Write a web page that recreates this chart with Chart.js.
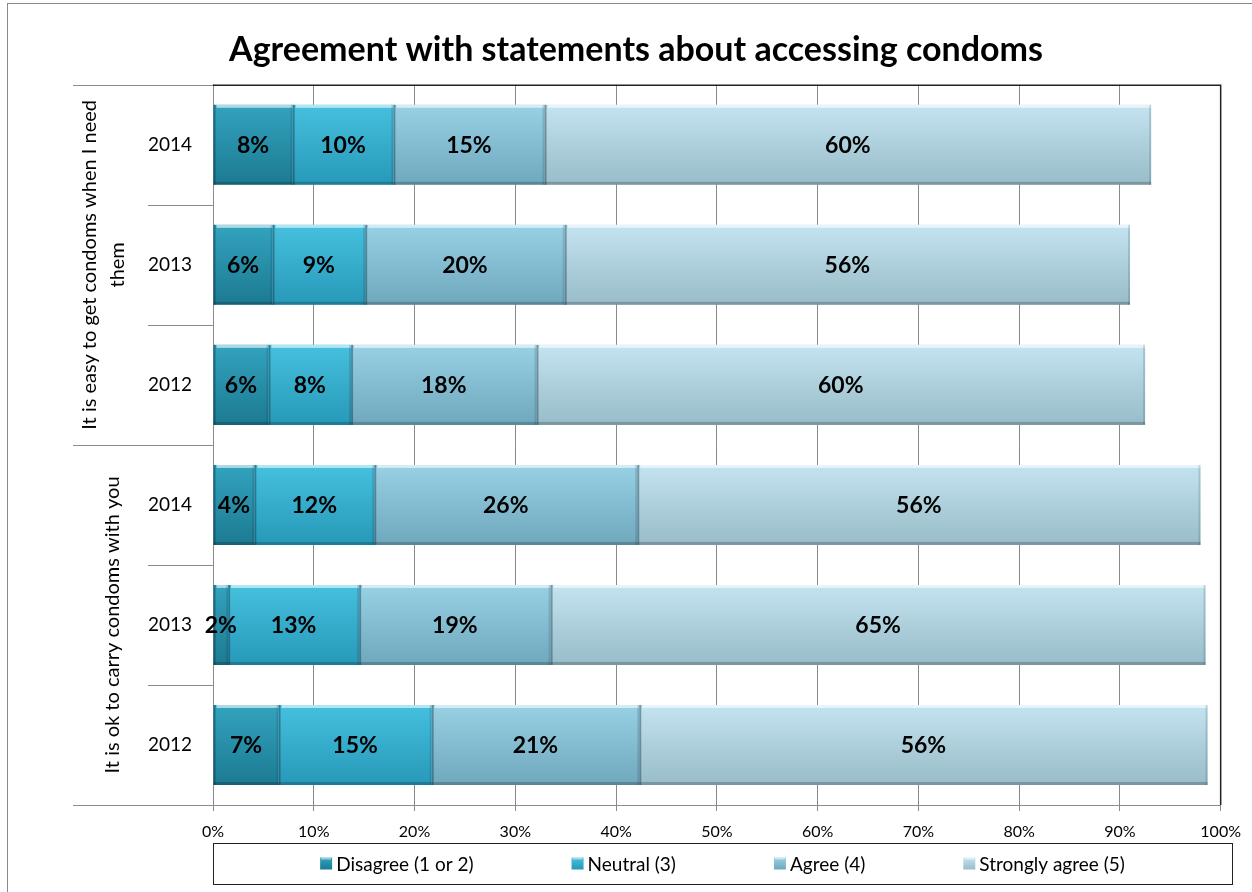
<!DOCTYPE html>
<html>
<head>
<meta charset="utf-8">
<title>Agreement with statements about accessing condoms</title>
<script src="https://cdn.jsdelivr.net/npm/chart.js"></script>
<style>
  html, body { margin: 0; padding: 0; background: #fff; }
  #wrap { width: 1252px; height: 892px; }
</style>
</head>
<body>
<div id="wrap"><canvas id="condomChart" width="1252" height="892"></canvas></div>
<script>
// rows top to bottom: easy-to-get 2014, 2013, 2012 / ok-to-carry 2014, 2013, 2012
const years = ["2014", "2013", "2012", "2014", "2013", "2012"];
const groups = [
    ["It is easy to get condoms when I need", "them"],
    ["It is ok to carry condoms with you"]
];
const seriesNames = ["Disagree (1 or 2)", "Neutral (3)", "Agree (4)", "Strongly agree (5)"];
const disagree = [7.9, 5.9, 5.5, 4.1, 1.5, 6.5];
const neutral = [10.0, 9.2, 8.2, 11.9, 13.0, 15.2];
const agree = [15.0, 19.8, 18.4, 26.1, 19.0, 20.6];
const stronglyAgree = [60.2, 56.1, 60.4, 55.9, 65.0, 56.4];
const xTicks = [0, 10, 20, 30, 40, 50, 60, 70, 80, 90, 100];

(function () {
    const FONT = "Lato, 'Open Sans', sans-serif";
    // top / bottom colour of each series gradient
    const shades = [
        ["#33a3be", "#1c7a92"],
        ["#45c0de", "#2798b8"],
        ["#98d0e4", "#6fa8bd"],
        ["#c3e3ef", "#98bcc9"]
    ];
    const BAR_H = 80;

    function barFill(i) {
        return function (ctx) {
            let chart = ctx.chart;
            let y = chart.scales.y;
            if (!y || !chart.chartArea || ctx.dataIndex === undefined) return shades[i][0];
            let yc = y.getPixelForValue(ctx.dataIndex);
            let g = chart.ctx.createLinearGradient(0, yc - BAR_H / 2, 0, yc + BAR_H / 2);
            g.addColorStop(0, shades[i][0]);
            g.addColorStop(1, shades[i][1]);
            return g;
        };
    }

    let datasets = [disagree, neutral, agree, stronglyAgree].map(function (values, i) {
        return {
            label: seriesNames[i],
            data: values,
            backgroundColor: barFill(i),
            borderWidth: 0,
            categoryPercentage: 1,
            barPercentage: BAR_H / 120
        };
    });

    // bevel on each bar segment plus the rounded value labels
    let barDecor = {
        id: "barDecor",
        afterDatasetsDraw: function (chart) {
            let c = chart.ctx;
            c.save();
            chart.data.datasets.forEach(function (ds, di) {
                let meta = chart.getDatasetMeta(di);
                meta.data.forEach(function (el, i) {
                    let x0 = Math.min(el.base, el.x), x1 = Math.max(el.base, el.x);
                    let top = el.y - el.height / 2, bot = el.y + el.height / 2;
                    c.fillStyle = "rgba(255,255,255,0.6)";
                    c.fillRect(x0 + 3, top, x1 - x0 - 3, 3);
                    c.fillStyle = "rgba(0,0,0,0.2)";
                    c.fillRect(x0, bot - 3, x1 - x0, 3);
                    c.fillStyle = "rgba(0,40,60,0.4)";
                    c.fillRect(x0, top, 2, el.height);
                    c.fillStyle = "rgba(0,40,60,0.15)";
                    c.fillRect(x1 - 2, top, 2, el.height);
                    c.fillStyle = "#000";
                    c.font = "bold 23px " + FONT;
                    c.textAlign = "center";
                    c.textBaseline = "middle";
                    c.fillText(Math.round(ds.data[i]) + "%", (x0 + x1) / 2, el.y + 1);
                });
            });
            c.restore();
        }
    };

    // frame, plot border, grouped category labels, legend box
    let frame = {
        id: "frame",
        afterDraw: function (chart) {
            let c = chart.ctx;
            let a = chart.chartArea;
            c.save();
            c.strokeStyle = "#8a8a8a";
            c.lineWidth = 1;
            c.strokeRect(7.5, 3.5, 1260, 900);

            c.strokeStyle = "#222";
            c.lineWidth = 1.5;
            c.beginPath();
            c.moveTo(a.left, a.top + 0.5);
            c.lineTo(a.right, a.top + 0.5);
            c.lineTo(a.right, a.bottom);
            c.stroke();

            let step = (a.bottom - a.top) / years.length;
            c.strokeStyle = "#8a8a8a";
            c.lineWidth = 1;
            c.beginPath();
            for (let k = 0; k <= years.length; k++) {
                let yy = Math.round(a.top + k * step) + 0.5;
                c.moveTo(k % 3 === 0 ? 73 : 148, yy);
                c.lineTo(a.left, yy);
            }
            c.stroke();

            c.fillStyle = "#000";
            c.font = "20px " + FONT;
            c.textAlign = "center";
            c.textBaseline = "middle";
            groups.forEach(function (lines, gi) {
                let yc = a.top + (gi * 3 + 1.5) * step;
                let xc = gi === 0 ? 104 : 113;
                c.save();
                c.translate(xc, yc);
                c.rotate(-Math.PI / 2);
                lines.forEach(function (t, li) {
                    let off = (li - (lines.length - 1) / 2) * 28;
                    c.fillText(t, 0, off);
                });
                c.restore();
            });

            // legend
            let bx0 = 213, bx1 = 1232, by0 = 843, by1 = 884;
            c.strokeStyle = "#222";
            c.lineWidth = 1;
            c.strokeRect(bx0 + 0.5, by0 + 0.5, bx1 - bx0, by1 - by0);
            c.font = "19px " + FONT;
            c.textAlign = "left";
            let gap = 98, box = 12;
            let widths = seriesNames.map(function (n) { return box + 4 + c.measureText(n).width; });
            let total = widths.reduce(function (s, w) { return s + w; }, 0) + gap * (widths.length - 1);
            let x = (bx0 + bx1) / 2 - total / 2;
            let ym = (by0 + by1) / 2;
            seriesNames.forEach(function (n, i) {
                let g = c.createLinearGradient(0, ym - box / 2, 0, ym + box / 2);
                g.addColorStop(0, shades[i][0]);
                g.addColorStop(1, shades[i][1]);
                c.fillStyle = g;
                c.fillRect(x, ym - box / 2, box, box);
                c.fillStyle = "rgba(255,255,255,0.5)";
                c.fillRect(x + 1, ym - box / 2, box - 2, 2);
                c.fillStyle = "#000";
                c.fillText(n, x + box + 4, ym + 1);
                x += widths[i] + gap;
            });
            c.restore();
        }
    };

    let ctx = document.getElementById("condomChart").getContext("2d");
    new Chart(ctx, {
        type: "bar",
        data: { labels: years, datasets: datasets },
        options: {
            indexAxis: "y",
            responsive: false,
            animation: false,
            layout: { padding: { left: 51, right: 31, top: 0, bottom: 0 } },
            plugins: {
                legend: { display: false },
                tooltip: { enabled: false },
                title: {
                    display: true,
                    text: "Agreement with statements about accessing condoms",
                    color: "#000",
                    font: { family: FONT, size: 34, weight: "bold" },
                    padding: { top: 30, bottom: 14 }
                }
            },
            scales: {
                x: {
                    stacked: true,
                    min: 0,
                    max: 100,
                    afterBuildTicks: function (s) {
                        s.ticks = xTicks.map(function (v) { return { value: v }; });
                    },
                    afterFit: function (s) { s.height = 87; },
                    grid: { color: "#8a8a8a", tickLength: 6, drawOnChartArea: true },
                    border: { display: true, color: "#8a8a8a" },
                    ticks: {
                        color: "#000",
                        padding: 11,
                        font: { family: FONT, size: 16 },
                        callback: function (v) { return v + "%"; }
                    }
                },
                y: {
                    stacked: true,
                    afterFit: function (s) { s.width = 162; },
                    grid: { display: false },
                    border: { display: true, color: "#8a8a8a" },
                    ticks: {
                        color: "#000",
                        padding: 13,
                        font: { family: FONT, size: 19 }
                    }
                }
            }
        },
        plugins: [barDecor, frame]
    });
})();
</script>
</body>
</html>
